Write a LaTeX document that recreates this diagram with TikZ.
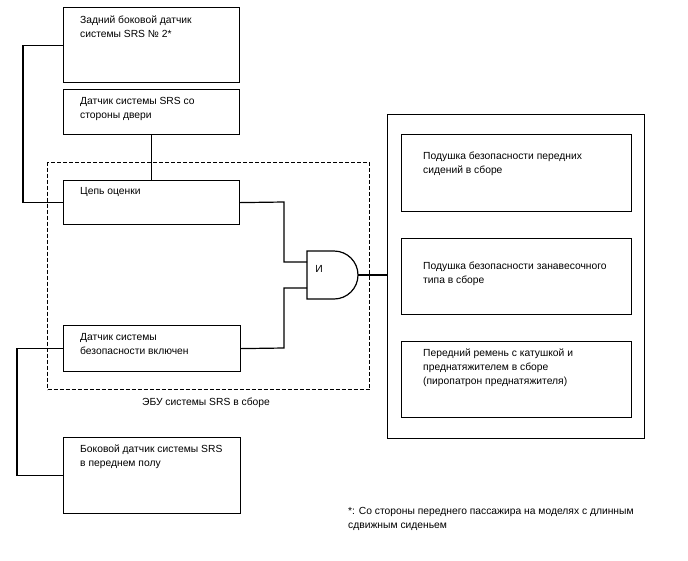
\documentclass[tikz,border=0pt]{standalone}
\usepackage{fontspec}
\setmainfont{Liberation Sans}
\begin{document}
\begin{tikzpicture}[x=1pt,y=-1pt,
  box/.style={draw, line width=1.2pt, inner sep=0pt, anchor=north west},
  txt/.style={anchor=north west, inner sep=0pt, align=left, font=\fontsize{10.3}{14}\selectfont},
  wire/.style={line width=1.2pt},
  ecubox/.style={draw, line width=1pt, dash pattern=on 4pt off 2pt, inner sep=0pt, anchor=north west}]
\useasboundingbox (0,0) rectangle (688,560);
% left column boxes
\node[box, minimum width=176pt, minimum height=75pt] (b1) at (63,7) {};
\node[box, minimum width=176pt, minimum height=45pt] (b2) at (63,89) {};
\node[box, minimum width=176pt, minimum height=44pt] (b3) at (63,180) {};
\node[box, minimum width=177pt, minimum height=46pt] (b4) at (63,325) {};
\node[box, minimum width=177pt, minimum height=76pt] (b5) at (63,437) {};
% ECU dashed box
\node[ecubox, minimum width=322pt, minimum height=227pt] (ecu) at (47,162) {};
\node[anchor=center, inner sep=0pt, font=\fontsize{10.3}{14}\selectfont] (ecul) at (206,403) {ЭБУ системы SRS в сборе};
% right big box
\node[box, minimum width=257pt, minimum height=324pt] (big) at (387,114) {};
\node[box, minimum width=230pt, minimum height=77pt] (i1) at (401,134) {};
\node[box, minimum width=230pt, minimum height=76pt] (i2) at (401,238) {};
\node[box, minimum width=230pt, minimum height=76pt] (i3) at (401,341) {};
% AND gate
\draw[wire] (307,251) -- (334,251) arc[start angle=90, end angle=-90, radius=24pt] -- (307,299) -- cycle;
\coordinate (gin1) at (307,262);
\coordinate (gin2) at (307,288);
\coordinate (gout) at (358,275);
\node[inner sep=0pt, font=\fontsize{10.3}{14}\selectfont] (gl) at (319,269) {И};
% texts
\node[txt] (t1) at (80,16) {Задний боковой датчик\\системы SRS № 2*};
\node[txt] (t2) at (80,97) {Датчик системы SRS со\\стороны двери};
\node[txt] (t3) at (80,187) {Цепь оценки};
\node[txt] (t4) at (80,333) {Датчик системы\\безопасности включен};
\node[txt] (t5) at (80,445) {Боковой датчик системы SRS\\в переднем полу};
\node[txt] (ti1) at (423,152) {Подушка безопасности передних\\сидений в сборе};
\node[txt] (ti2) at (423,262) {Подушка безопасности занавесочного\\типа в сборе};
\node[txt] (ti3) at (423,349) {Передний ремень с катушкой и\\преднатяжителем в сборе\\(пиропатрон преднатяжителя)};
\node[txt] (foot) at (348,507) {*: Со стороны переднего пассажира на моделях с длинным\\сдвижным сиденьем};
% connectors
\draw[wire] (b1.west) -- ++(-40,0) |- (b3.west);
\draw[wire] (b2.south) -- (b3.north);
\draw[wire] (b3.east) -- (284,202) |- (gin1);
\draw[wire] (b4.east) -- (284,348) |- (gin2);
\draw[wire] (gout) -- (big.west |- gout);
\draw[wire] (b4.west) -- ++(-46,0) |- (b5.west);
\end{tikzpicture}
\end{document}
